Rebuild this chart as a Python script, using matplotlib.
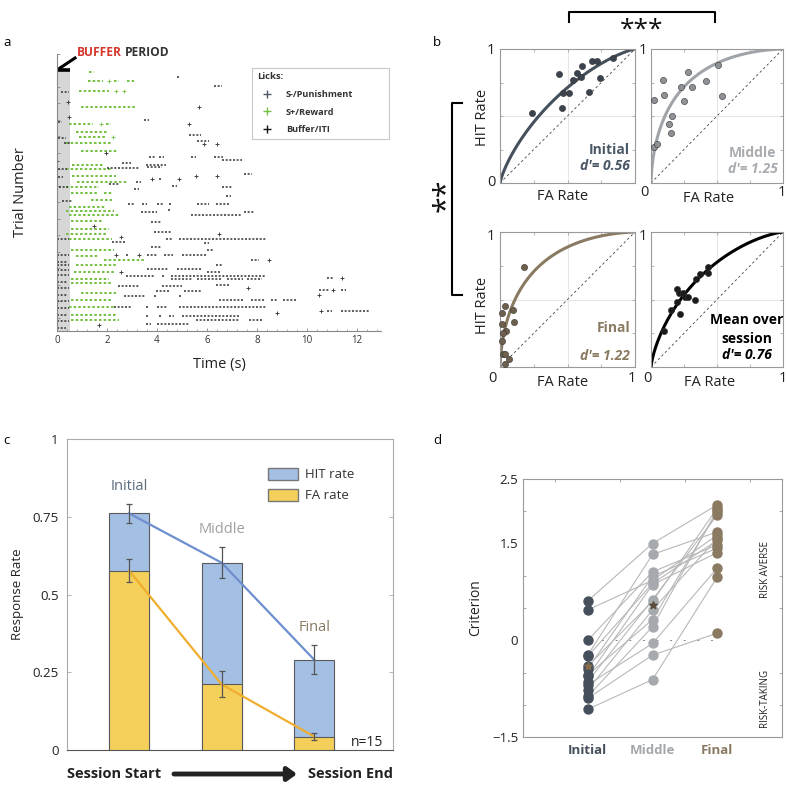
import numpy as np
import matplotlib
matplotlib.use('Agg')
import matplotlib.pyplot as plt
from matplotlib.lines import Line2D
from matplotlib.patches import Patch
from matplotlib.ticker import MultipleLocator
from math import erf, sqrt

plt.rcParams['font.family'] = ['Open Sans', 'DejaVu Sans']

W, H = 787, 785

# ---------------- panel a: lick raster (trial, start s, end s) ----------------
green_bursts = [
    (5.4, 1.3, 1.5),
    (8.1, 1.23, 1.85), (8.1, 2.1, 2.1), (8.1, 2.3, 2.5), (8.1, 2.8, 3.1),
    (11.1, 0.9, 2.1), (11.1, 2.35, 2.35), (11.1, 2.7, 2.7),
    (16.0, 0.95, 3.15),
    (21.2, 0.5, 1.45), (21.2, 1.75, 1.75), (21.2, 1.95, 2.15),
    (23.6, 0.75, 2.0),
    (25.3, 0.9, 1.95), (25.3, 2.25, 2.25),
    (27.0, 0.35, 2.2),
    (29.5, 0.95, 2.4),
    (33.6, 0.6, 1.9),
    (35.0, 0.35, 2.15),
    (36.9, 0.6, 2.35),
    (38.9, 0.8, 2.8),
    (40.4, 0.35, 1.7),
    (42.2, 0.55, 1.6), (42.2, 1.9, 2.2),
    (44.2, 1.35, 2.2),
    (46.3, 0.5, 1.95),
    (47.5, 0.35, 2.3),
    (48.8, 0.5, 2.5),
    (50.7, 0.55, 1.83),
    (53.1, 0.55, 2.1),
    (54.5, 0.35, 2.0),
    (56.2, 0.5, 2.2),
    (59.4, 0.55, 2.3),
    (61.4, 0.75, 1.7),
    (62.4, 1.9, 3.5),
    (64.0, 0.75, 2.35),
    (66.1, 0.7, 2.3),
    (68.3, 0.55, 2.1),
    (69.3, 0.55, 2.25),
    (72.5, 0.95, 2.35),
    (74.5, 0.55, 2.15),
    (76.6, 0.5, 2.3),
    (79.1, 0.55, 2.35),
    (80.8, 0.55, 2.5),
]

black_bursts = [
    (6.9, 4.8, 4.9), (9.6, 6.3, 6.6), (11.6, 0.15, 0.5), (14.7, 0.45, 0.45),
    (16.0, 5.7, 5.7), (19.2, 0.5, 0.5), (20.0, 3.5, 3.7), (20.6, 0.05, 0.2),
    (21.2, 5.3, 5.3), (24.7, 5.3, 5.75), (25.6, 0.05, 0.35), (26.3, 5.6, 6.1),
    (27.0, 0.3, 0.55), (27.4, 5.9, 5.9), (27.4, 6.4, 6.4), (30.1, 1.96, 1.96),
    (31.1, 3.7, 3.95), (31.1, 4.1, 4.3), (31.1, 5.35, 5.55), (31.1, 6.3, 6.65),
    (32.1, 6.6, 7.4), (32.4, 0.0, 0.0), (33.1, 2.6, 2.95), (33.6, 3.55, 4.35),
    (34.2, 3.6, 4.2), (34.5, 2.0, 3.3), (35.0, 0.05, 0.4), (36.4, 7.5, 7.8),
    (37.2, 0.05, 0.25), (36.9, 5.55, 5.55), (36.9, 6.4, 6.4),
    (37.9, 3.8, 3.8), (37.9, 4.1, 4.2), (37.9, 4.9, 4.9), (39.4, 2.1, 2.5),
    (38.9, 3.15, 3.35), (39.9, 4.6, 4.8), (40.4, 0.1, 0.45), (40.4, 6.6, 7.0),
    (41.0, 3.1, 3.3), (43.0, 6.75, 6.95), (44.7, 0.2, 0.6),
    (45.6, 2.85, 3.1), (45.6, 3.4, 3.6), (45.6, 4.0, 4.3), (45.6, 4.5, 4.6),
    (45.6, 5.6, 6.1), (45.6, 6.35, 6.9),
    (47.9, 3.35, 4.0), (47.3, 4.45, 4.55), (47.9, 7.5, 7.9), (48.8, 5.35, 7.35),
    (51.0, 3.75, 4.2), (52.1, 1.5, 1.5), (54.0, 3.9, 4.6), (54.5, 6.5, 6.5),
    (56.2, 0.0, 0.5), (57.1, 2.2, 2.75), (55.6, 2.55, 2.55), (56.2, 4.35, 4.6),
    (56.2, 4.9, 8.35), (57.2, 5.9, 6.1), (58.4, 3.75, 4.15), (59.4, 6.0, 6.3),
    (60.9, 2.35, 2.35), (60.9, 2.75, 2.9), (60.9, 3.3, 3.3), (60.9, 3.6, 4.05),
    (60.9, 4.3, 4.65), (60.9, 5.0, 6.0), (62.4, 7.75, 8.1), (62.4, 8.5, 8.5),
    (64.0, 0.0, 0.5), (65.2, 3.6, 4.45), (65.2, 4.8, 5.75), (64.0, 6.35, 6.6),
    (66.1, 2.55, 2.55), (66.1, 6.0, 6.55),
    (67.3, 2.75, 3.9), (67.3, 4.2, 4.3), (67.3, 4.55, 8.35),
    (67.8, 10.8, 11.05), (67.8, 11.4, 11.4),
    (68.3, 4.55, 5.4), (68.3, 5.6, 6.6), (68.3, 6.8, 7.45), (68.3, 7.6, 8.2),
    (69.9, 6.35, 6.9), (70.5, 2.45, 3.3), (70.5, 4.2, 5.0), (70.9, 7.65, 7.65),
    (71.5, 10.5, 10.9), (71.5, 11.05, 11.05), (71.5, 11.35, 11.55),
    (72.0, 3.95, 4.5), (72.0, 5.1, 5.75), (73.2, 10.5, 10.5),
    (73.5, 2.7, 3.55), (73.5, 3.9, 4.0), (73.5, 4.9, 5.0),
    (74.7, 6.5, 7.5), (74.7, 7.75, 8.3), (74.7, 8.55, 8.8), (74.7, 9.05, 9.55),
    (76.8, 2.3, 3.0), (76.8, 3.55, 3.7), (76.8, 4.0, 4.4), (76.8, 4.9, 8.35),
    (77.8, 10.55, 10.55), (77.8, 10.8, 11.0), (77.8, 11.35, 12.5),
    (78.4, 8.8, 8.8),
    (79.6, 3.55, 3.7), (79.6, 4.1, 4.2), (79.6, 4.5, 4.7), (79.6, 5.0, 7.3),
    (80.8, 5.55, 7.3), (80.8, 7.7, 8.2),
    (81.8, 3.55, 3.75), (81.8, 4.0, 5.3), (82.3, 1.7, 1.7),
    (61.0, 0.0, 0.5), (63.0, 0.0, 0.45), (65.5, 0.0, 0.5), (67.0, 0.0, 0.5),
    (69.0, 0.0, 0.4), (71.0, 0.0, 0.5), (73.0, 0.0, 0.45), (75.0, 0.0, 0.5),
    (77.0, 0.0, 0.5), (79.0, 0.0, 0.45), (81.0, 0.0, 0.5), (83.0, 0.0, 0.35),
]

# ---------------- panel b: ROC points ----------------
roc_init_fa = [0.24, 0.44, 0.46, 0.47, 0.51, 0.54, 0.57, 0.60, 0.61, 0.66, 0.68, 0.72, 0.74, 0.84]
roc_init_hit = [0.52, 0.81, 0.56, 0.67, 0.67, 0.77, 0.82, 0.79, 0.87, 0.68, 0.91, 0.91, 0.78, 0.93]
roc_mid_fa = [0.025, 0.09, 0.095, 0.14, 0.16, 0.15, 0.23, 0.25, 0.28, 0.31, 0.42, 0.51, 0.54, 0.025, 0.045]
roc_mid_hit = [0.62, 0.77, 0.66, 0.44, 0.50, 0.37, 0.72, 0.61, 0.83, 0.72, 0.76, 0.88, 0.65, 0.27, 0.29]
roc_fin_fa = [0.18, 0.012, 0.037, 0.012, 0.044, 0.02, 0.012, 0.094, 0.10, 0.02, 0.035, 0.037, 0.067]
roc_fin_hit = [0.74, 0.40, 0.45, 0.32, 0.27, 0.25, 0.19, 0.42, 0.33, 0.10, 0.094, 0.025, 0.06]
roc_mean_fa = [0.10, 0.15, 0.20, 0.21, 0.22, 0.24, 0.26, 0.28, 0.33, 0.34, 0.37, 0.43, 0.43, 0.20]
roc_mean_hit = [0.27, 0.42, 0.58, 0.55, 0.39, 0.55, 0.52, 0.52, 0.50, 0.65, 0.69, 0.74, 0.70, 0.48]
dprimes = [0.56, 1.25, 1.22, 0.76]

# ---------------- panel c: response rates ----------------
stages = ['Initial', 'Middle', 'Final']
hit_rate = [0.761, 0.602, 0.290]
hit_err = [0.031, 0.050, 0.047]
fa_rate = [0.577, 0.211, 0.043]
fa_err = [0.038, 0.042, 0.012]

# ---------------- panel d: criterion per subject ----------------
crit_initial = [0.61, 0.47, 0.0, -0.23, -0.25, -0.40, -0.44, -0.54, -0.56, -0.64, -0.69, -0.77, -0.87, -0.90, -1.07]
crit_middle = [1.50, 0.93, 1.06, 1.33, 0.88, 0.60, 0.99, 0.32, 0.86, 0.63, -0.05, 0.47, 0.21, -0.23, -0.61]
crit_final = [2.10, 1.63, 1.48, 1.68, 1.55, 2.05, 1.43, 1.99, 1.36, 1.94, 1.12, 1.58, 2.02, 0.11, 0.98]
crit_mean_initial = -0.40
crit_mean_middle = 0.54

c_green = '#74c043'


def rect(x0, y0, x1, y1):
    return [x0 / W, 1 - y1 / H, (x1 - x0) / W, (y1 - y0) / H]


fig = plt.figure(figsize=(W / 100, H / 100), dpi=100)
ov = fig.add_axes([0, 0, 1, 1], zorder=10)
ov.set_xlim(0, W)
ov.set_ylim(H, 0)
ov.axis('off')
ov.patch.set_alpha(0)

# ====== panel a ======
axa = fig.add_axes(rect(57, 54, 381, 331))
axa.set_xlim(0, 12.97)
axa.set_ylim(84, 0)
axa.fill_between([0, 0.52], 4.8, 84, color='#d6d6d6', lw=0, zorder=0)
axa.plot([0, 0.52], [4.8, 4.8], color='k', lw=2.6, solid_capstyle='butt', clip_on=False)
for bursts, col, lw in [(green_bursts, c_green, 1.4), (black_bursts, '#303030', 1.1)]:
    for tr, t0, t1 in bursts:
        if t1 - t0 < 0.05:
            axa.plot(t0, tr, '+', color=col, ms=2.6, mew=0.6)
        else:
            axa.plot([t0, t1], [tr, tr], color=col, lw=lw, ls=(0, (1.3, 1.1)))
for s in ['top', 'right']:
    axa.spines[s].set_visible(False)
for s in ['left', 'bottom']:
    axa.spines[s].set_color('#888888')
    axa.spines[s].set_linewidth(0.8)
axa.set_xticks(np.arange(0, 13, 2))
axa.xaxis.set_minor_locator(MultipleLocator(0.4))
axa.set_yticks(np.arange(0, 85, 5))
axa.set_yticklabels([])
axa.tick_params(direction='in', length=2.5, width=0.6, colors='#888888', labelcolor='#333333', labelsize=7, pad=3)
axa.tick_params(which='minor', direction='in', length=1.5, width=0.5, colors='#888888')
axa.set_xlabel('Time (s)', fontsize=10.5, color='#222222', labelpad=8)
axa.set_ylabel('Trial Number', fontsize=10.5, color='#222222', labelpad=18)
handles = [Line2D([], [], marker='+', ls='none', color='#4f5a66', ms=6, mew=1),
           Line2D([], [], marker='+', ls='none', color=c_green, ms=6, mew=1),
           Line2D([], [], marker='+', ls='none', color='#111111', ms=6, mew=1)]
leg = axa.legend(handles, ['S-/Punishment', 'S+/Reward', 'Buffer/ITI'], title='Licks:',
                 loc='upper left', bbox_to_anchor=(0.602, 0.3, 0.423, 0.651), mode='expand',
                 borderaxespad=0, fontsize=6.6, title_fontsize=6.8, frameon=True, fancybox=False,
                 edgecolor='#bbbbbb', alignment='left', handletextpad=1.0,
                 labelspacing=0.95, borderpad=0.5, handlelength=2.2)
leg.get_frame().set_linewidth(0.8)
for t in leg.get_texts():
    t.set_fontweight('bold')
    t.set_color('#333333')
leg.get_title().set_fontweight('bold')
leg.get_title().set_color('#333333')
ov.text(77, 53, 'BUFFER', color='#d4362a', fontsize=8.6, fontweight='bold', va='center')
ov.text(125, 53, 'PERIOD', color='#333333', fontsize=8.6, fontweight='bold', va='center')
ov.plot([75, 60], [58, 68], color='k', lw=2.2)
ov.text(3, 42, 'a', fontsize=9.5, va='center')

# ====== panel b ======
def phi(v):
    return np.array([0.5 * (1 + erf(x / sqrt(2))) for x in v])


roc_axes = [
    (rect(500, 49, 635, 183), roc_init_fa, roc_init_hit, dprimes[0], '#46505c', '#3b444e'),
    (rect(651, 49, 783, 183), roc_mid_fa, roc_mid_hit, dprimes[1], '#a0a4a9', '#8e9196'),
    (rect(500, 232, 635, 367), roc_fin_fa, roc_fin_hit, dprimes[2], '#8a7a62', '#6e604c'),
    (rect(651, 232, 783, 367), roc_mean_fa, roc_mean_hit, dprimes[3], '#000000', '#1a1a1a'),
]
zz = np.linspace(-5, 5, 400)
for r, fa, hit, d, lc, pc in roc_axes:
    ax = fig.add_axes(r)
    ax.set_xlim(0, 1)
    ax.set_ylim(0, 1)
    ax.axhline(0.5, color='#e6e6e6', lw=0.8, zorder=0)
    ax.axvline(0.5, color='#e6e6e6', lw=0.8, zorder=0)
    ax.plot([0, 1], [0, 1], color='#444444', lw=0.6, ls=(0, (3, 3)))
    ax.plot(phi(zz), phi(zz + d), color=lc, lw=2.2)
    ax.scatter(fa, hit, s=20, color=pc, edgecolor='#333333', linewidth=0.4, zorder=3, clip_on=False)
    ax.set_xticks([0, 0.25, 0.5, 0.75, 1])
    ax.set_yticks([0, 0.25, 0.5, 0.75, 1])
    ax.set_xticklabels([])
    ax.set_yticklabels([])
    ax.tick_params(direction='in', length=2, width=0.5, colors='#999999', top=True, right=True)
    for s in ax.spines.values():
        s.set_color('#999999')
        s.set_linewidth(0.8)

bt = dict(fontsize=10.5, color='#222222', ha='center', va='center')
ov.text(491, 50, '1', **bt)
ov.text(491, 183, '0', **bt)
ov.text(643, 50, '1', **bt)
ov.text(644, 193, '0', **bt)
ov.text(782, 193, '1', **bt)
ov.text(491, 236, '1', **bt)
ov.text(492, 378, '0', **bt)
ov.text(632, 378, '1', **bt)
ov.text(647, 378, '0', **bt)
ov.text(783, 378, '1', **bt)
ov.text(643, 236, '1', **bt)
ax_lab = dict(fontsize=10.5, ha='center', va='center', color='#222222')
ov.text(482, 117, 'HIT Rate', rotation=90, **ax_lab)
ov.text(482, 305, 'HIT Rate', rotation=90, **ax_lab)
ov.text(563, 196, 'FA Rate', **ax_lab)
ov.text(709, 198, 'FA Rate', **ax_lab)
ov.text(563, 383, 'FA Rate', **ax_lab)
ov.text(710, 383, 'FA Rate', **ax_lab)

lab = dict(fontsize=10, fontweight='bold', ha='right', va='center')
ov.text(630, 150, 'Initial', color='#4b5866', **lab)
ov.text(630, 166, "d'= %.2f" % dprimes[0], color='#4b5866', style='italic', **lab)
ov.text(776, 153, 'Middle', color='#a8abaf', **lab)
ov.text(778, 169, "d'= %.2f" % dprimes[1], color='#a8abaf', style='italic', **lab)
ov.text(630, 328, 'Final', color='#8a7a62', **lab)
ov.text(630, 356, "d'= %.2f" % dprimes[2], color='#8a7a62', style='italic', **lab)
mo = dict(color='#000000', fontsize=10, fontweight='bold', ha='center', va='center')
ov.text(747, 320, 'Mean over', **mo)
ov.text(747, 339, 'session', **mo)
ov.text(747, 355, "d'= %.2f" % dprimes[3], style='italic', **mo)

ov.plot([569, 569, 715, 715], [22, 12, 12, 22], color='k', lw=1.5)
ov.text(642, 30, '***', fontsize=19, ha='center', va='center', color='#111111')
ov.plot([462, 452, 452, 462], [103, 103, 295, 295], color='k', lw=1.5)
ov.text(446, 195, '**', rotation=90, fontsize=22, ha='center', va='center', color='#111111')
ov.text(433, 42, 'b', fontsize=9.5, va='center')

# ====== panel c ======
axc = fig.add_axes(rect(67, 439, 393, 750))
xc = np.array([1, 2, 3])
bw = 0.43
axc.bar(xc, hit_rate, bw, color='#a3bfe4', edgecolor='#5a5a5a', linewidth=0.8, zorder=2)
axc.bar(xc, fa_rate, bw, color='#f4d05b', edgecolor='#5a5a5a', linewidth=0.8, zorder=3)
axc.plot(xc, hit_rate, color='#6d8fcf', lw=1.6, zorder=4)
axc.plot(xc, fa_rate, color='#f0ae2e', lw=1.6, zorder=4)
axc.errorbar(xc, hit_rate, yerr=hit_err, fmt='none', ecolor='#555555', elinewidth=0.9, capsize=2.5, capthick=0.9, zorder=5)
axc.errorbar(xc, fa_rate, yerr=fa_err, fmt='none', ecolor='#555555', elinewidth=0.9, capsize=2.5, capthick=0.9, zorder=5)
axc.set_xlim(0.33, 3.85)
axc.set_ylim(0, 1)
axc.set_xticks([])
axc.set_yticks([0, 0.25, 0.5, 0.75, 1])
axc.set_yticklabels(['0', '0.25', '0.5', '0.75', '1'])
axc.tick_params(axis='y', direction='in', length=3, width=0.6, colors='#aaaaaa', labelcolor='#222222', labelsize=9.5, right=True, pad=6)
for s in axc.spines.values():
    s.set_color('#aaaaaa')
    s.set_linewidth(0.8)
axc.spines['bottom'].set_color('#555555')
axc.set_ylabel('Response Rate', fontsize=9.5, color='#222222', labelpad=6)
legc = axc.legend(handles=[Patch(facecolor='#a3bfe4', edgecolor='#777777', label='HIT rate'),
                           Patch(facecolor='#f4d05b', edgecolor='#777777', label='FA rate')],
                  loc='upper left', bbox_to_anchor=(0.6, 0.925), borderaxespad=0, frameon=False,
                  fontsize=9.5, handlelength=2.3, handleheight=1.1, labelspacing=0.55, handletextpad=0.5)
for t in legc.get_texts():
    t.set_color('#333333')
stage_cols = ['#5b6c7d', '#a0a0a0', '#8a7a62']
for i, (nm, col) in enumerate(zip(stages, stage_cols)):
    axc.annotate(nm, (xc[i], hit_rate[i] + hit_err[i]), xytext=(0, 12.5), textcoords='offset points',
                 ha='center', va='center', fontsize=10.5, color=col)
ov.text(367, 742, 'n=15', fontsize=10, ha='center', va='center', color='#222222')
ov.text(67, 774, 'Session Start', fontsize=10.5, fontweight='bold', ha='left', va='center', color='#222222')
ov.text(393, 774, 'Session End', fontsize=10.5, fontweight='bold', ha='right', va='center', color='#222222')
ov.annotate('', xy=(297, 774), xytext=(174, 774),
            arrowprops=dict(arrowstyle='-|>,head_length=0.55,head_width=0.4', lw=3.5, color='#222222', shrinkA=0, shrinkB=0))
ov.text(3, 440, 'c', fontsize=9.5, va='center')

# ====== panel d ======
axd = fig.add_axes(rect(523, 479, 782, 737))
axd.hlines(0, 1, 3, colors='#888888', lw=0.7, linestyles=(0, (2, 12)), zorder=1)
for a, b, c in zip(crit_initial, crit_middle, crit_final):
    axd.plot([1, 2, 3], [a, b, c], color='#b8b8b8', lw=0.8, zorder=2)
axd.scatter(np.full(len(crit_initial), 1), crit_initial, s=42, color='#46505c', zorder=3)
axd.scatter(np.full(len(crit_middle), 2), crit_middle, s=42, color='#a6aaae', zorder=3)
axd.scatter(np.full(len(crit_final), 3), crit_final, s=42, color='#8a7a62', zorder=3)
axd.scatter([1], [crit_mean_initial], marker='*', s=28, color='#8a6e4a', zorder=4)
axd.scatter([2], [crit_mean_middle], marker='*', s=30, color='#5a4a3a', zorder=4)
axd.set_xlim(0, 4)
axd.set_ylim(-1.5, 2.5)
axd.set_xticks([1, 2, 3])
axd.set_xticklabels(stages)
axd.xaxis.set_minor_locator(MultipleLocator(0.5))
axd.set_yticks([-1.5, 0, 1.5, 2.5])
axd.set_yticklabels(['\u22121.5', '0', '1.5', '2.5'])
axd.yaxis.set_minor_locator(MultipleLocator(0.5))
axd.tick_params(direction='in', length=0, labelsize=9.5, labelcolor='#222222')
axd.tick_params(axis='x', pad=5)
axd.tick_params(which='minor', direction='in', length=2.5, width=0.6, colors='#999999', top=True, right=True, bottom=False)
for lbl, col in zip(axd.get_xticklabels(), ['#46505c', '#a3a7ac', '#8a7a62']):
    lbl.set_color(col)
    lbl.set_fontweight('bold')
for s in axd.spines.values():
    s.set_color('#999999')
    s.set_linewidth(0.8)
axd.set_ylabel('Criterion', fontsize=10, color='#222222', labelpad=6)
ov.text(765, 570, 'RISK AVERSE', rotation=90, fontsize=7, ha='center', va='center', color='#222222')
ov.text(765, 698, 'RISK-TAKING', rotation=90, fontsize=7, ha='center', va='center', color='#222222')
ov.text(433, 440, 'd', fontsize=9.5, va='center')

fig.savefig('out.png', dpi=100)
